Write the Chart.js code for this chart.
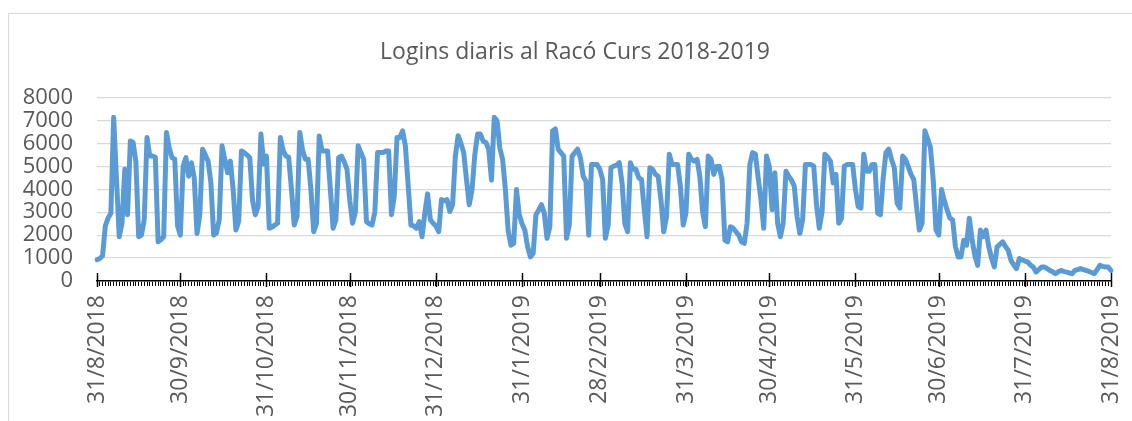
<!DOCTYPE html>
<html>
<head>
<meta charset="utf-8">
<script src="https://cdn.jsdelivr.net/npm/chart.js@4.4.1/dist/chart.umd.min.js"></script>
<style>
  body { margin: 0; background: #fff; }
  #wrap { position: relative; width: 1132px; height: 421px; overflow: hidden; }
  #frame { position: absolute; left: 8px; top: 13px; width: 1140px; height: 430px; border: 1px solid #d9d9d9; box-sizing: border-box; }
  canvas { position: absolute; left: 0; top: 0; }
</style>
</head>
<body>
<div id="wrap">
  <div id="frame"></div>
  <canvas id="chart1" width="1132" height="421"></canvas>
</div>
<script>
// Logins diaris, un valor per dia des del 31/8/2018 fins al 31/8/2019
const logins = [
  930, 980, 1100, 2400, 2750, 2960, 7140, 4500,
  1930, 2520, 4870, 2890, 6110, 6040, 5200,
  1930, 2000, 2670, 6260, 5450, 5450, 5400,
  1710, 1800, 1930, 6480, 5800, 5380, 5310,
  2400, 2000, 5010, 5380, 4570, 5160, 4500,
  2070, 2890, 5750, 5500, 5230, 4280, 2000,
  2100, 2670, 5900, 5300, 4720, 5230, 4000,
  2220, 2600, 5670, 5600, 5500, 5380, 3500,
  2890, 3250, 6410, 5100, 5450, 2300, 2350,
  2440, 2520, 6260, 5700, 5450, 5400, 4000,
  2440, 2810, 6480, 5700, 5310, 5310, 4000,
  2150, 2500, 6330, 5670, 5670, 5670, 4000,
  2300, 2670, 5380, 5450, 5200, 4870, 3500,
  2520, 3000, 5900, 5600, 5310, 2590, 2500,
  2440, 3000, 5600, 5600, 5600, 5670, 5670,
  2890, 3690, 6260, 6260, 6550, 5900, 4200,
  2440, 2400, 2300, 2590, 1930, 2960, 3800,
  2670, 2520, 2400, 2150, 3550, 3500, 3550,
  3030, 3330, 5450, 6340, 6000, 5600, 4430,
  3330, 3990, 5500, 6410, 6410, 6100, 6040,
  5750, 4400, 7140, 7000, 5800, 5310, 3990,
  2200, 1560, 1640, 3990, 2890, 2500, 2220,
  1500, 1050, 1200, 2890, 3100, 3330, 2960,
  1860, 2370, 6550, 6630, 5750, 5600, 5450,
  1860, 2440, 5450, 5600, 5750, 5380, 4570,
  4350, 2000, 5080, 5080, 5080, 4870, 4430,
  1860, 2440, 4940, 5010, 5050, 5160, 4280,
  2500, 2150, 5160, 4870, 4870, 4500, 4430,
  3110, 1930, 4940, 4870, 4650, 4570, 3550,
  2150, 2810, 5530, 5080, 5080, 5080, 4130,
  2440, 2960, 5530, 5300, 5230, 5310, 4570,
  3000, 2370, 5450, 5310, 4650, 5000, 5010,
  4430, 1780, 1710, 2370, 2300, 2150, 2000,
  1710, 1640, 2520, 5080, 5600, 5530, 4500,
  3550, 2300, 5450, 5000, 3110, 4720, 2520,
  1930, 2520, 4790, 4570, 4400, 4130, 2810,
  2070, 2670, 5080, 5080, 5080, 5010, 3330,
  2300, 3030, 5530, 5400, 5230, 4280, 4650,
  2520, 2740, 5010, 5080, 5080, 5080, 4000,
  3250, 3180, 5530, 4790, 4790, 5080, 5080,
  2960, 2890, 4500, 5600, 5750, 5300, 4940,
  3400, 3180, 5450, 5310, 5000, 4650, 4430,
  3250, 2220, 2520, 6550, 6200, 5820, 4430,
  2220, 2000, 3990, 3500, 3110, 2740, 2670,
  1500, 1050, 1050, 1780, 1560, 2740, 1800,
  1100, 680, 2220, 1930, 2220, 1500, 1000,
  610, 1490, 1600, 1710, 1500, 1340, 900,
  700, 540, 980, 920, 870, 830, 700,
  610, 390, 500, 610, 610, 550, 460,
  400, 320, 400, 460, 420, 390, 350,
  320, 460, 500, 540, 500, 460, 420,
  370, 320, 500, 680, 640, 610, 610,
  460
];

// etiquetes que es mostren a l'eix X (finals de mes)
const tickLabels = [
  '31/8/2018', '30/9/2018', '31/10/2018', '30/11/2018', '31/12/2018',
  '31/1/2019', '28/2/2019', '31/3/2019', '30/4/2019', '31/5/2019',
  '30/6/2019', '31/7/2019', '31/8/2019'
];

const yTicks = [0, 1000, 2000, 3000, 4000, 5000, 6000, 7000, 8000];

// un dia per categoria
var dayLabels = [];
for (let i = 0; i < logins.length; i++) {
    let d = new Date(2018, 7, 31 + i);
    dayLabels.push(d.getDate() + '/' + (d.getMonth() + 1) + '/' + d.getFullYear());
}

// marques llargues als finals de mes
const majorTicks = {
    id: 'majorTicks',
    afterDatasetsDraw(chart) {
        const x = chart.scales.x;
        const ctx = chart.ctx;
        const bottom = chart.chartArea.bottom;
        ctx.save();
        ctx.strokeStyle = '#000';
        ctx.lineWidth = 1.5;
        dayLabels.forEach((lab, i) => {
            if (tickLabels.indexOf(lab) < 0) return;
            const px = Math.round(x.getPixelForValue(i)) + 0.5;
            ctx.beginPath();
            ctx.moveTo(px, bottom - 8);
            ctx.lineTo(px, bottom + 6);
            ctx.stroke();
        });
        ctx.restore();
    }
};

const chart1Config = {
    type: 'line',
    data: {
        labels: dayLabels,
        datasets: [{
            data: logins,
            borderColor: '#5b9bd5',
            borderWidth: 5,
            pointRadius: 0,
            tension: 0,
            borderJoinStyle: 'round',
            borderCapStyle: 'round'
        }]
    },
    options: {
        responsive: false,
        animation: false,
        layout: { padding: { left: 18, right: 0, top: 0, bottom: 0 } },
        plugins: {
            legend: { display: false },
            tooltip: { enabled: false },
            title: {
                display: true,
                text: 'Logins diaris al Racó Curs 2018-2019',
                color: '#595959',
                font: { family: 'Open Sans', size: 23, weight: 'normal' },
                padding: { top: 39, bottom: 31 }
            }
        },
        scales: {
            x: {
                offset: false,
                border: { display: true, color: '#000', width: 1.5 },
                grid: {
                    display: true,
                    drawOnChartArea: false,
                    drawTicks: true,
                    tickLength: 5,
                    tickColor: '#000',
                    lineWidth: 1
                },
                ticks: {
                    autoSkip: false,
                    maxRotation: 90,
                    minRotation: 90,
                    padding: 9,
                    color: '#595959',
                    font: { family: 'Open Sans', size: 23 },
                    callback: function (val, idx) {
                        let lab = dayLabels[idx];
                        return tickLabels.indexOf(lab) >= 0 ? lab : '';
                    }
                },
                afterFit: function (scale) {
                    scale.height = 140;
                    scale.paddingLeft = 0;
                    scale.paddingRight = 21;
                }
            },
            y: {
                min: 0,
                max: 8000,
                border: { display: false },
                grid: { color: '#d9d9d9', lineWidth: 1.3, drawTicks: false },
                ticks: {
                    autoSkip: false,
                    stepSize: 1000,
                    padding: 24,
                    color: '#595959',
                    font: { family: 'Open Sans', size: 22 },
                    callback: function (v) { return yTicks.indexOf(v) >= 0 ? String(v) : ''; }
                },
                afterFit: function (scale) { scale.width = 79; }
            }
        }
    },
    plugins: [majorTicks]
};

var chart1HTML = document.getElementById('chart1');
var chart1Chart = new Chart(chart1HTML, chart1Config);
</script>
</body>
</html>
